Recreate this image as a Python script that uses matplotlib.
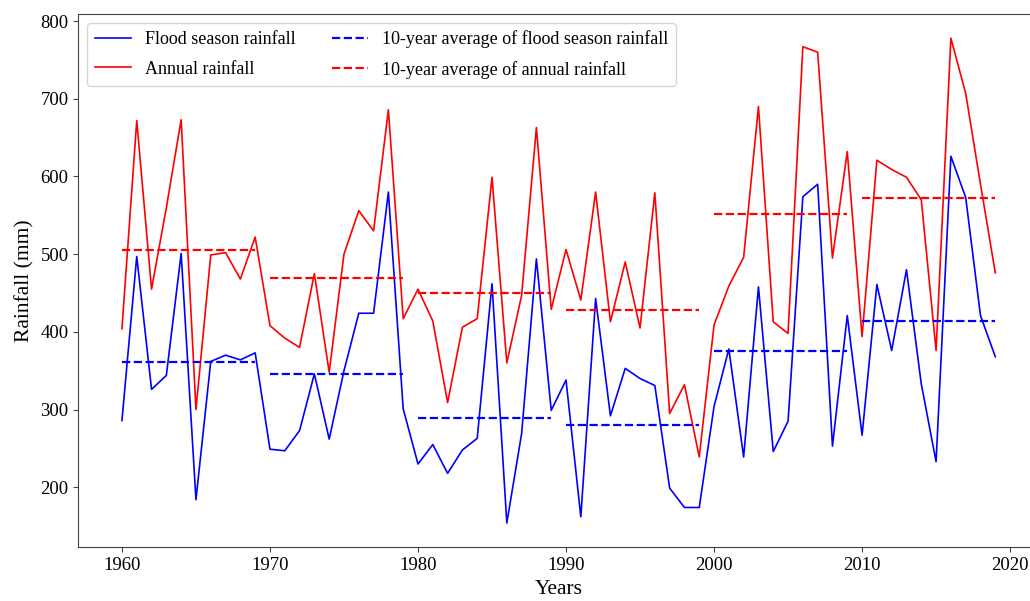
import matplotlib
matplotlib.use("Agg")
import matplotlib.pyplot as plt

years = list(range(1960, 2020))

flood = [286, 497, 326, 344, 501, 184, 362, 370, 364, 373,
         249, 247, 273, 346, 262, 350, 424, 424, 580, 301,
         230, 255, 218, 248, 263, 462, 154, 269, 494, 299,
         338, 162, 443, 292, 353, 340, 331, 199, 174, 174,
         304, 378, 239, 458, 246, 285, 574, 590, 253, 421,
         267, 461, 376, 480, 333, 233, 626, 573, 421, 368]

annual = [404, 672, 455, 560, 673, 300, 499, 502, 468, 522,
          408, 392, 380, 475, 348, 500, 556, 530, 686, 417,
          455, 414, 309, 406, 417, 599, 360, 447, 663, 429,
          506, 441, 580, 413, 490, 405, 579, 295, 332, 239,
          409, 459, 496, 690, 413, 398, 767, 760, 495, 632,
          394, 621, 609, 599, 570, 376, 778, 707, 590, 476]

decade_starts = [1960, 1970, 1980, 1990, 2000, 2010]
flood_avg = [360.7, 345.6, 289.2, 280.6, 374.8, 413.8]
annual_avg = [505.5, 469.2, 449.9, 428.0, 551.9, 572.0]

plt.rcParams['font.family'] = ['Liberation Serif', 'DejaVu Serif']

fig = plt.figure(figsize=(10.30, 6.01), dpi=100)
ax = fig.add_axes([0.076, 0.0894, 0.9327, 0.8874])

ax.plot(years, flood, color='blue', lw=1.2, label='Flood season rainfall')
ax.plot(years, annual, color='red', lw=1.2, label='Annual rainfall')

for i, (s, v) in enumerate(zip(decade_starts, flood_avg)):
    ax.plot([s, s + 9], [v, v], color='blue', ls='--', lw=1.6,
            label='10-year average of flood season rainfall' if i == 0 else None)
for i, (s, v) in enumerate(zip(decade_starts, annual_avg)):
    ax.plot([s, s + 9], [v, v], color='red', ls='--', lw=1.6,
            label='10-year average of annual rainfall' if i == 0 else None)

ax.set_xticks([1960, 1970, 1980, 1990, 2000, 2010, 2020])
ax.set_yticks([200, 300, 400, 500, 600, 700, 800])
ax.tick_params(labelsize=13.5, color='#444444')
ax.spines['right'].set_visible(False)
for side in ('left', 'bottom', 'top'):
    ax.spines[side].set_color('#444444')
ax.set_xlabel('Years', fontsize=15.5)
ax.set_ylabel('Rainfall (mm)', fontsize=15.5)

ax.legend(loc='upper left', ncol=2, fontsize=13, labelspacing=0.7)

fig.savefig('out.png', dpi=100)
